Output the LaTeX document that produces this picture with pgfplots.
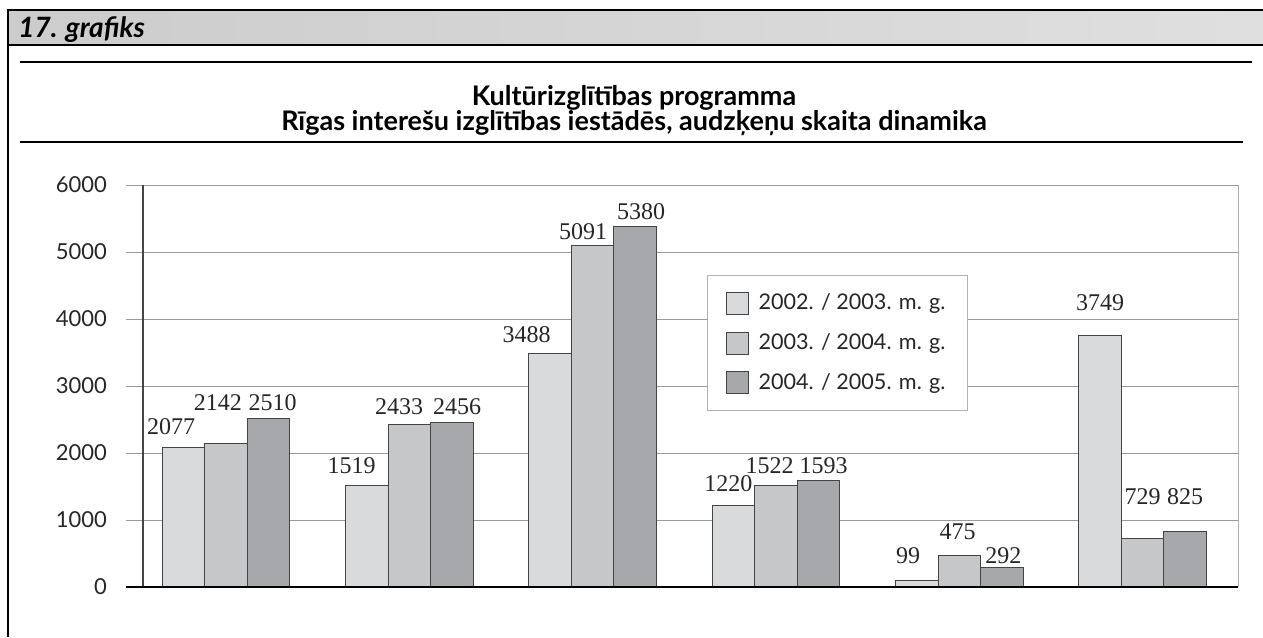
\documentclass[border=0pt]{standalone}
\usepackage{pgfplots}
\pgfplotsset{compat=1.18}
\usepackage{pgfplotstable}
\usepackage{fontspec}
\setmainfont{Lato}
\newfontfamily\serifnum{Liberation Serif}
\definecolor{sA}{HTML}{D9DADC}
\definecolor{sB}{HTML}{C6C7C9}
\definecolor{sC}{HTML}{A7A8AB}
\definecolor{edge}{HTML}{444444}
\definecolor{gridc}{HTML}{9A9A9A}

\pgfplotstableread{
x y
0 2077
1 1519
2 3488
3 1220
4 99
5 3749
}\serA
\pgfplotstableread{
x y
0 2142
1 2433
2 5091
3 1522
4 475
5 729
}\serB
\pgfplotstableread{
x y
0 2510
1 2456
2 5380
3 1593
4 292
5 825
}\serC
\pgfplotstableread{
x y t
-0.30 2388 2077
-0.045 2746 2142
0.254 2746 2510
0.685 1806 1519
0.944 2687 2433
1.26 2687 2456
1.64 3761 3488
1.948 5299 5091
2.264 5597 5380
2.74 1537 1220
2.965 1806 1522
3.26 1806 1593
3.72 463 99
3.99 821 475
4.24 463 292
4.768 4239 3749
5 1343 729
5.232 1343 825
}\labels

\begin{document}
\begin{tikzpicture}
\begin{scope}[x=0.5pt,y=-0.5pt]
\useasboundingbox (0,0) rectangle (1263,637);
% banner
\shade[left color=gray!40, middle color=gray!8, right color=gray!25] (8,10) rectangle (1263,45);
\draw[black, line width=1.1pt] (1263,10) -- (8,10) -- (8,637);
\draw[black, line width=1.1pt] (8,45) -- (1263,45);
\node[anchor=base west, inner sep=0pt, font=\bfseries\itshape\fontsize{14}{16}\selectfont] at (18,37) {17. grafiks};
\draw[black, line width=0.7pt] (20,62) -- (1252,62);
\draw[black, line width=0.7pt] (20,142) -- (1243,142);
\node[font=\bfseries\fontsize{13.5}{16}\selectfont] at (634,98) {Kultūrizglītības programma};
\node[font=\bfseries\fontsize{13.5}{16}\selectfont] at (634,123) {Rīgas interešu izglītības iestādēs, audzķeņu skaita dinamika};
\end{scope}

\begin{axis}[
  at={(71.5pt,-293.5pt)}, anchor=south west,
  scale only axis, width=547.5pt, height=201pt,
  xmin=-0.453, xmax=5.52, ymin=0, ymax=6000,
  xtick=\empty,
  ytick={0,1000,2000,3000,4000,5000,6000},
  ytick pos=left, tick align=outside, major tick length=8.5pt,
  ymajorgrids, grid style={gridc, line width=0.5pt},
  tick style={gridc, line width=0.5pt},
  axis line style={draw=none},
  /pgf/number format/assume math mode=true,
  /pgf/number format/1000 sep={},
  yticklabel style={font=\fontsize{11}{13}\selectfont, text=black!85, xshift=-6pt},
  clip=false,
  legend image code/.code={\draw[#1] (0pt,-5.5pt) rectangle (11pt,5.5pt);},
  legend style={at={(rel axis cs:0.515,0.776)}, anchor=north west,
    draw=gray!60, line width=0.6pt, font=\fontsize{10.8}{12}\selectfont,
    inner xsep=9pt, inner ysep=7pt, row sep=6.5pt, text=black!85,
    /tikz/every odd column/.append style={column sep=3pt}},
  legend cell align=left,
]
\addplot[ybar, bar width=0.232, bar shift=-0.232, fill=sA, draw=edge, line width=0.5pt] table[x=x,y=y] {\serA};
\addlegendentry{2002. / 2003. m. g.}
\addplot[ybar, bar width=0.232, bar shift=0, fill=sB, draw=edge, line width=0.5pt] table[x=x,y=y] {\serB};
\addlegendentry{2003. / 2004. m. g.}
\addplot[ybar, bar width=0.232, bar shift=0.232, fill=sC, draw=edge, line width=0.5pt] table[x=x,y=y] {\serC};
\addlegendentry{2004. / 2005. m. g.}
\addplot[only marks, mark=none, forget plot, nodes near coords, point meta=explicit symbolic,
  every node near coord/.style={anchor=center, inner sep=0pt, font=\serifnum\fontsize{12}{14}\selectfont, text=black!85}]
  table[x=x,y=y,meta=t] {\labels};
\end{axis}

\begin{scope}[x=0.5pt,y=-0.5pt]
\draw[edge, line width=0.6pt] (143,185) -- (143,587);
\draw[gray!60, line width=0.5pt] (1238,185) -- (1238,587);
\draw[black, line width=1.1pt] (126,587) -- (1238,587);
\end{scope}
\end{tikzpicture}
\end{document}
